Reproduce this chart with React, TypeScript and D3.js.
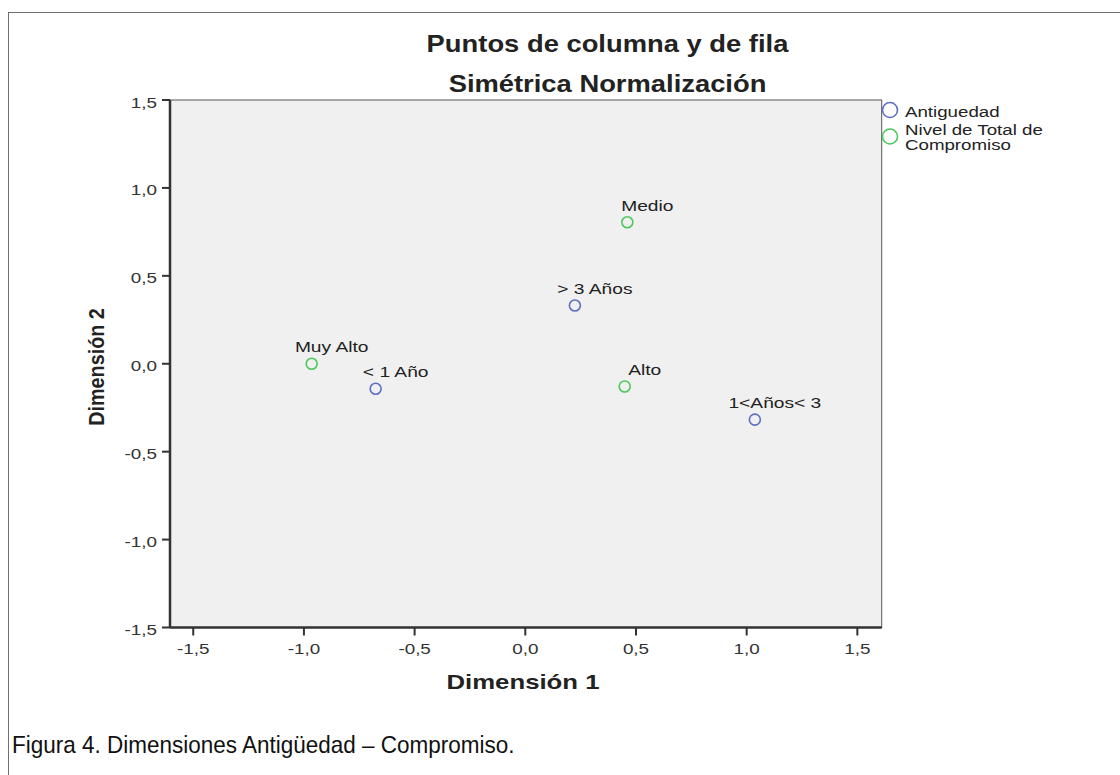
import React from "react";
import * as d3 from "d3";

const titles = ["Puntos de columna y de fila", "Simétrica Normalización"];
const pointLabels = ["Muy Alto", "< 1 Año", "> 3 Años", "Medio", "Alto", "1<Años< 3"];
const dim1 = [-0.965, -0.676, 0.224, 0.461, 0.449, 1.037];
const dim2 = [0.0, -0.142, 0.331, 0.805, -0.129, -0.318];
const pointGroup = ["comp", "ant", "ant", "comp", "comp", "ant"];
const xTicks = [-1.5, -1.0, -0.5, 0.0, 0.5, 1.0, 1.5];
const yTicks = [-1.5, -1.0, -0.5, 0.0, 0.5, 1.0, 1.5];
const legendLabels = [["Antiguedad"], ["Nivel de Total de", "Compromiso"]];
const legendGroups = ["ant", "comp"];
const caption = "Figura 4. Dimensiones Antigüedad – Compromiso.";

const colors: Record<string, string> = { ant: "#5b6fc4", comp: "#4cc85a" };
const font = "Arial, 'Liberation Sans', sans-serif";

function SText(props: {
  x: number; y: number; sx: number; size: number; anchor?: string; bold?: boolean; fill?: string; children: React.ReactNode;
}) {
  return (
    <g transform={`translate(${props.x},${props.y}) scale(${props.sx},1)`}>
      <text x={0} y={0} textAnchor={props.anchor || "start"} fontFamily={font}
        fontWeight={props.bold ? "bold" : "normal"} fontSize={props.size} fill={props.fill || "#222"}>
        {props.children}
      </text>
    </g>
  );
}

export default function App() {
  const W = 1120, H = 775;
  const left = 170, right = 881.7, top = 100, bottom = 627.5;
  const x = d3.scaleLinear().domain([-1.605, 1.61]).range([left, right]);
  const y = d3.scaleLinear().domain([-1.5, 1.5]).range([bottom, top]);
  const fmt = (v: number) => d3.format(".1f")(v).replace(".", ",").replace("\u2212", "-");

  return (
    <svg width={W} height={H} style={{ position: "absolute", left: 0, top: 0, background: "#fff" }}>
      <rect x={8.5} y={12.5} width={1140} height={800} fill="#fff" stroke="#6e6e6e" strokeWidth={1} />
      {titles.map((t, i) => (
        <SText key={t} x={607.5} y={51.5 + i * 40} sx={1.19} size={23} anchor="middle" bold fill="#222">{t}</SText>
      ))}
      <rect x={left} y={top} width={right - left} height={bottom - top} fill="#f0f0f0" stroke="#555" strokeWidth={1} />
      <line x1={left} x2={left} y1={top} y2={bottom} stroke="#333" strokeWidth={2.5} />
      <line x1={left} x2={right} y1={bottom} y2={bottom} stroke="#333" strokeWidth={2.5} />
      {yTicks.map((t) => (
        <g key={"y" + t}>
          <line x1={left - 8} x2={left} y1={y(t)} y2={y(t)} stroke="#333" strokeWidth={2} />
          <SText x={left - 13} y={y(t) + 7.5} sx={1.3} size={14.5} anchor="end" fill="#333">{fmt(t)}</SText>
        </g>
      ))}
      {xTicks.map((t) => (
        <g key={"x" + t}>
          <line x1={x(t)} x2={x(t)} y1={bottom} y2={bottom + 8} stroke="#333" strokeWidth={2} />
          <SText x={x(t)} y={bottom + 26.5} sx={1.3} size={14.5} anchor="middle" fill="#333">{fmt(t)}</SText>
        </g>
      ))}
      <SText x={523} y={689} sx={1.32} size={19.5} anchor="middle" bold fill="#222">Dimensión 1</SText>
      <g transform="translate(104,367) rotate(-90) scale(0.9,1)">
        <text x={0} y={0} textAnchor="middle" fontFamily={font} fontWeight="bold" fontSize={22} fill="#222">Dimensión 2</text>
      </g>
      {dim1.map((v, i) => (
        <g key={pointLabels[i]}>
          <circle cx={x(v)} cy={y(dim2[i])} r={5.5} fill="none" stroke={colors[pointGroup[i]]} strokeWidth={1.6} />
          <SText x={x(v) + 20} y={y(dim2[i]) - 11.5} sx={1.28} size={15} anchor="middle" fill="#222">{pointLabels[i]}</SText>
        </g>
      ))}
      {legendGroups.map((g, i) => (
        <g key={g}>
          <circle cx={890} cy={110 + i * 26.5} r={7.5} fill="none" stroke={colors[g]} strokeWidth={1.6} />
          {legendLabels[i].map((l, j) => (
            <SText key={l} x={905} y={116.5 + i * 18 + j * 15.7} sx={1.29} size={14.5} fill="#222">{l}</SText>
          ))}
        </g>
      ))}
      <SText x={12} y={753} sx={0.9375} size={24} fill="#111">{caption}</SText>
    </svg>
  );
}
